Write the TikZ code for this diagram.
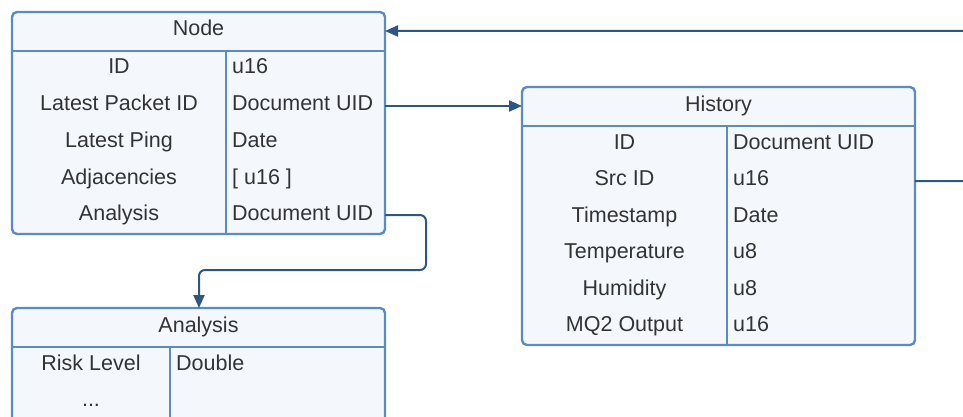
\documentclass[tikz,border=0pt]{standalone}
\usepackage{fontspec}
\setmainfont{Liberation Sans}
\usetikzlibrary{arrows.meta}
\definecolor{boxline}{HTML}{5A8BC2}
\definecolor{boxfill}{HTML}{F4F8FD}
\definecolor{linkcol}{HTML}{2D5683}
\definecolor{ink}{HTML}{333333}
\begin{document}
\begin{tikzpicture}[x=1pt,y=-1pt,
  tablebox/.style={draw=boxline, fill=boxfill, line width=2.4pt, rounded corners=5pt,
                   anchor=north west, inner sep=0pt, outer sep=0pt},
  sepline/.style={draw=boxline, line width=2.4pt},
  fieldname/.style={anchor=base, inner sep=0pt, text=ink, font=\fontsize{21.5}{24}\selectfont},
  fieldtype/.style={fieldname, anchor=base west},
  link/.style={draw=linkcol, line width=2pt, rounded corners=6pt,
               -{Triangle[length=13pt,width=11pt]}},
]
\useasboundingbox (0,0) rectangle (963,417);
\clip (0,0) rectangle (963,417);

% ---------- Node table ----------
\node[tablebox, minimum width=373pt, minimum height=222pt] (nodebox) at (12,12) {};
\draw[sepline] (nodebox.west |- 0,51) -- (nodebox.east |- 0,51);
\draw[sepline] (226,51) -- (226,0 |- nodebox.south);
\node[fieldname] (nodetitle) at (198.5,36) {Node};
\node[fieldname] (nid)  at (119,74)    {ID};
\node[fieldname] (npkt) at (119,110.7) {Latest Packet ID};
\node[fieldname] (nping) at (119,147.3) {Latest Ping};
\node[fieldname] (nadj) at (119,184)   {Adjacencies};
\node[fieldname] (nan)  at (119,220.6) {Analysis};
\node[fieldtype] (tid)  at (232,74)    {u16};
\node[fieldtype] (tpkt) at (232,110.7) {Document UID};
\node[fieldtype] (tping) at (232,147.3) {Date};
\node[fieldtype] (tadj) at (232,184)   {[ u16 ]};
\node[fieldtype] (tan)  at (232,220.6) {Document UID};

% ---------- History table ----------
\node[tablebox, minimum width=393pt, minimum height=258pt] (histbox) at (522,87) {};
\draw[sepline] (histbox.west |- 0,126) -- (histbox.east |- 0,126);
\draw[sepline] (727,126) -- (727,0 |- histbox.south);
\node[fieldname] (htitle) at (718.5,111.7) {History};
\node[fieldname] (hid)   at (624.5,149)   {ID};
\node[fieldname] (hsrc)  at (624.5,185.5) {Src ID};
\node[fieldname] (hts)   at (624.5,222)   {Timestamp};
\node[fieldname] (htemp) at (624.5,258.5) {Temperature};
\node[fieldname] (hhum)  at (624.5,295)   {Humidity};
\node[fieldname] (hmq)   at (624.5,331.6) {MQ2 Output};
\node[fieldtype] (hidt)   at (733,149)   {Document UID};
\node[fieldtype] (hsrct)  at (733,185.5) {u16};
\node[fieldtype] (htst)   at (733,222)   {Date};
\node[fieldtype] (htempt) at (733,258.5) {u8};
\node[fieldtype] (hhumt)  at (733,295)   {u8};
\node[fieldtype] (hmqt)   at (733,331.6) {u16};

% ---------- Analysis table ----------
\node[tablebox, minimum width=373pt, minimum height=160pt] (anbox) at (12,308) {};
\draw[sepline] (anbox.west |- 0,347) -- (anbox.east |- 0,347);
\draw[sepline] (170,347) -- (170,0 |- anbox.south);
\node[fieldname] (antitle) at (198.5,332.3) {Analysis};
\node[fieldname] (arisk) at (91,370)   {Risk Level};
\node[fieldname] (amore) at (91,406.7) {...};
\node[fieldtype] (arisko) at (176,370) {Double};

% ---------- Connectors ----------
\coordinate (anbendA) at (426,270);
\coordinate (anbendB) at (199,270);
\coordinate (histout) at (990,181);
\coordinate (histup)  at (990,31);

\draw[link] (nodebox.east |- 0,106) -- (anbendA |- 0,106) -- (histbox.west |- 0,106);
\draw[link] (nodebox.east |- 0,215) -- (anbendA |- 0,215) -- (anbendA)
            -- (anbendB) -- (anbendB |- anbox.north);
\draw[link] (histbox.east |- histout) -- (histout) -- (histup)
            -- (nodebox.east |- histup);
\end{tikzpicture}
\end{document}
